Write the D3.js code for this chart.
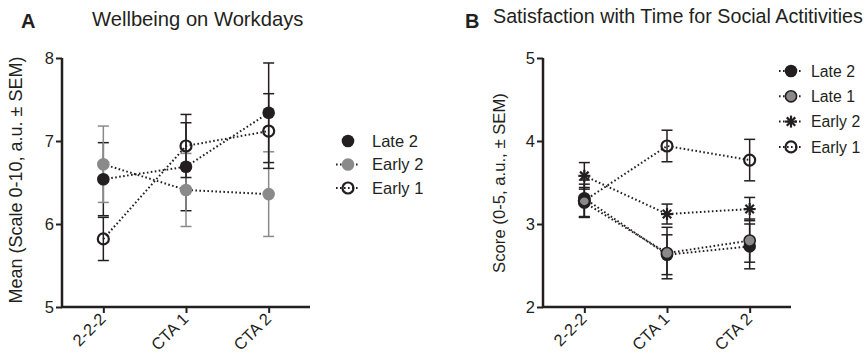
<!DOCTYPE html>
<html>
<head>
<meta charset="utf-8">
<script src="https://cdn.jsdelivr.net/npm/d3@7"></script>
<style>
body { margin: 0; background: #fff; }
svg text { font-family: "Liberation Sans", Arial, Helvetica, sans-serif; }
</style>
</head>
<body>
<svg id="chart" width="868" height="360"></svg>
<script>
// time points
var categories = ["2-2-2", "CTA 1", "CTA 2"];

// panel A: wellbeing on workdays (mean, sem)
var wellLate2 = [6.54, 6.69, 7.34];
var wellLate2Sem = [0.44, 0.53, 0.60];
var wellEarly2 = [6.72, 6.41, 6.36];
var wellEarly2Sem = [0.46, 0.44, 0.51];
var wellEarly1 = [5.82, 6.94, 7.12];
var wellEarly1Sem = [0.26, 0.38, 0.45];
var wellTicks = [5, 6, 7, 8];

// panel B: satisfaction with time for social activities
var socLate2 = [3.31, 2.63, 2.73];
var socLate2Sem = [0.22, 0.24, 0.27];
var socLate1 = [3.26, 2.65, 2.80];
var socLate1Sem = [0.18, 0.31, 0.26];
var socEarly2 = [3.58, 3.12, 3.18];
var socEarly2Sem = [0.16, 0.12, 0.14];
var socEarly1 = [3.28, 3.94, 3.77];
var socEarly1Sem = [0.20, 0.19, 0.25];
var socTicks = [2, 3, 4, 5];

var ink = "#231f20";
var grey = "#8a8a8a";
var font = "Liberation Sans, Arial, Helvetica, sans-serif";

function series(name, values, sem, symbol, color, legendLine) {
	return {name: name, values: values, sem: sem, symbol: symbol,
		color: color, legendLine: legendLine};
}

/**
 * Draw one marker at (x, y) into g.
 * symbol: "filled"|"grey"|"greyOut"|"open"|"star"
 */
function marker(g, symbol, x, y) {
	if (symbol === "filled" || symbol === "grey" || symbol === "greyOut") {
		var fill = symbol === "filled" ? ink : grey;
		g.append("circle").attr("cx", x).attr("cy", y)
			.attr("r", symbol === "greyOut" ? 5.6 : 6.3)
			.attr("fill", fill)
			.attr("stroke", symbol === "greyOut" ? ink : "none")
			.attr("stroke-width", 1.6);
	} else if (symbol === "open") {
		g.append("circle").attr("cx", x).attr("cy", y).attr("r", 5.5)
			.attr("fill", "none").attr("stroke", ink).attr("stroke-width", 2.2);
	} else if (symbol === "star") {
		var r = 6;
		[0, 45, 90, 135].forEach(function (a) {
			var rad = a * Math.PI / 180;
			g.append("line")
				.attr("x1", x - r * Math.cos(rad)).attr("y1", y - r * Math.sin(rad))
				.attr("x2", x + r * Math.cos(rad)).attr("y2", y + r * Math.sin(rad))
				.attr("stroke", ink).attr("stroke-width", 2.2);
		});
	}
}

function drawPanel(svg, cfg) {
	var x = d3.scalePoint().domain(categories)
		.range([cfg.left, cfg.right]).padding(0.5);
	var y = d3.scaleLinear().domain(cfg.domain).range([cfg.bottom, cfg.top]);

	var g = svg.append("g");

	// error bars
	cfg.series.forEach(function (s) {
		var eb = g.append("g").attr("stroke", s.color === grey ? grey : ink)
			.attr("stroke-width", 1.5);
		s.values.forEach(function (v, i) {
			var cx = x(categories[i]);
			var hi = y(v + s.sem[i]), lo = y(v - s.sem[i]);
			eb.append("line").attr("x1", cx).attr("x2", cx).attr("y1", hi).attr("y2", lo);
			eb.append("line").attr("x1", cx - 5.5).attr("x2", cx + 5.5).attr("y1", hi).attr("y2", hi);
			eb.append("line").attr("x1", cx - 5.5).attr("x2", cx + 5.5).attr("y1", lo).attr("y2", lo);
		});
	});

	// dotted connecting lines
	var line = d3.line().x(function (d, i) { return x(categories[i]); })
		.y(function (d) { return y(d); });
	cfg.series.forEach(function (s) {
		g.append("path").attr("d", line(s.values)).attr("fill", "none")
			.attr("stroke", ink).attr("stroke-width", 2)
			.attr("stroke-dasharray", "1.6,2.4");
	});

	// markers
	cfg.series.forEach(function (s) {
		s.values.forEach(function (v, i) {
			marker(g, s.symbol, x(categories[i]), y(v));
		});
	});

	// axes
	var yAxis = g.append("g").attr("transform", "translate(" + cfg.left + ",0)")
		.call(d3.axisLeft(y).tickValues(cfg.ticks).tickSize(6).tickPadding(2)
			.tickFormat(d3.format("d")));
	var xAxis = g.append("g").attr("transform", "translate(0," + cfg.bottom + ")")
		.call(d3.axisBottom(x).tickSize(6).tickSizeOuter(0));
	[yAxis, xAxis].forEach(function (a) {
		a.attr("font-family", font);
		a.select(".domain").attr("stroke", ink).attr("stroke-width", 2.5);
		a.selectAll(".tick line").attr("stroke", ink).attr("stroke-width", 2);
		a.selectAll("text").attr("fill", ink);
	});
	yAxis.select(".domain").attr("d", "M0," + (cfg.bottom + 1) + "V" + cfg.top);
	xAxis.select(".domain").attr("d", "M" + (cfg.left - 1) + ",0H" + cfg.right);
	yAxis.selectAll("text").attr("font-size", 16.5);
	xAxis.selectAll("text").attr("font-size", 16.5)
		.attr("text-anchor", "end").attr("dy", 0)
		.attr("transform", "translate(3,13) rotate(-45)")
		.attr("y", 0).attr("x", 0);

	// y label
	svg.append("text")
		.attr("transform", "translate(" + cfg.ylabelX + "," + cfg.ylabelY + ") rotate(-90)")
		.attr("text-anchor", "middle").attr("font-size", cfg.ylabelSize).attr("fill", ink)
		.text(cfg.ylabel);

	// panel letter and title
	svg.append("text").attr("x", cfg.letterX).attr("y", cfg.letterY)
		.attr("font-size", 20).attr("font-weight", "bold").attr("fill", ink)
		.text(cfg.letter);
	svg.append("text").attr("x", cfg.titleX).attr("y", cfg.titleY)
		.attr("font-size", cfg.titleSize).attr("fill", ink).text(cfg.title);

	// legend
	var lg = svg.append("g");
	cfg.series.forEach(function (s, i) {
		var ly = cfg.legendY + i * cfg.legendStep;
		if (s.legendLine) {
			lg.append("line").attr("x1", cfg.legendX - 12).attr("x2", cfg.legendX + 12)
				.attr("y1", ly).attr("y2", ly).attr("stroke", ink).attr("stroke-width", 2)
				.attr("stroke-dasharray", "1.6,2.4");
		}
		marker(lg, s.symbol, cfg.legendX, ly);
		lg.append("text").attr("x", cfg.legendX + cfg.legendGap).attr("y", ly).attr("dy", "0.36em")
			.attr("font-size", cfg.legendSize).attr("fill", ink).text(s.name);
	});
}

var svg = d3.select("#chart");

drawPanel(svg, {
	left: 62, right: 310, top: 58, bottom: 307,
	domain: [5, 8], ticks: wellTicks,
	ylabel: "Mean (Scale 0-10, a.u. \u00b1 SEM)", ylabelX: 22, ylabelY: 180, ylabelSize: 18,
	letter: "A", letterX: 21, letterY: 28,
	title: "Wellbeing on Workdays", titleX: 92, titleY: 26, titleSize: 20.2,
	legendX: 348, legendY: 141, legendStep: 23.5, legendGap: 24, legendSize: 16.5,
	series: [
		series("Late 2", wellLate2, wellLate2Sem, "filled", ink, false),
		series("Early 2", wellEarly2, wellEarly2Sem, "grey", grey, true),
		series("Early 1", wellEarly1, wellEarly1Sem, "open", ink, true)
	]
});

drawPanel(svg, {
	left: 543, right: 791, top: 58, bottom: 307,
	domain: [2, 5], ticks: socTicks,
	ylabel: "Score (0-5, a.u., \u00b1 SEM)", ylabelX: 505, ylabelY: 183, ylabelSize: 16.7,
	letter: "B", letterX: 465, letterY: 28,
	title: "Satisfaction with Time for Social Actitivities", titleX: 493, titleY: 23, titleSize: 19.7,
	legendX: 791, legendY: 71, legendStep: 25.3, legendGap: 20, legendSize: 15.8,
	series: [
		series("Late 2", socLate2, socLate2Sem, "filled", ink, true),
		series("Late 1", socLate1, socLate1Sem, "greyOut", ink, true),
		series("Early 2", socEarly2, socEarly2Sem, "star", ink, true),
		series("Early 1", socEarly1, socEarly1Sem, "open", ink, true)
	]
});
</script>
</body>
</html>
